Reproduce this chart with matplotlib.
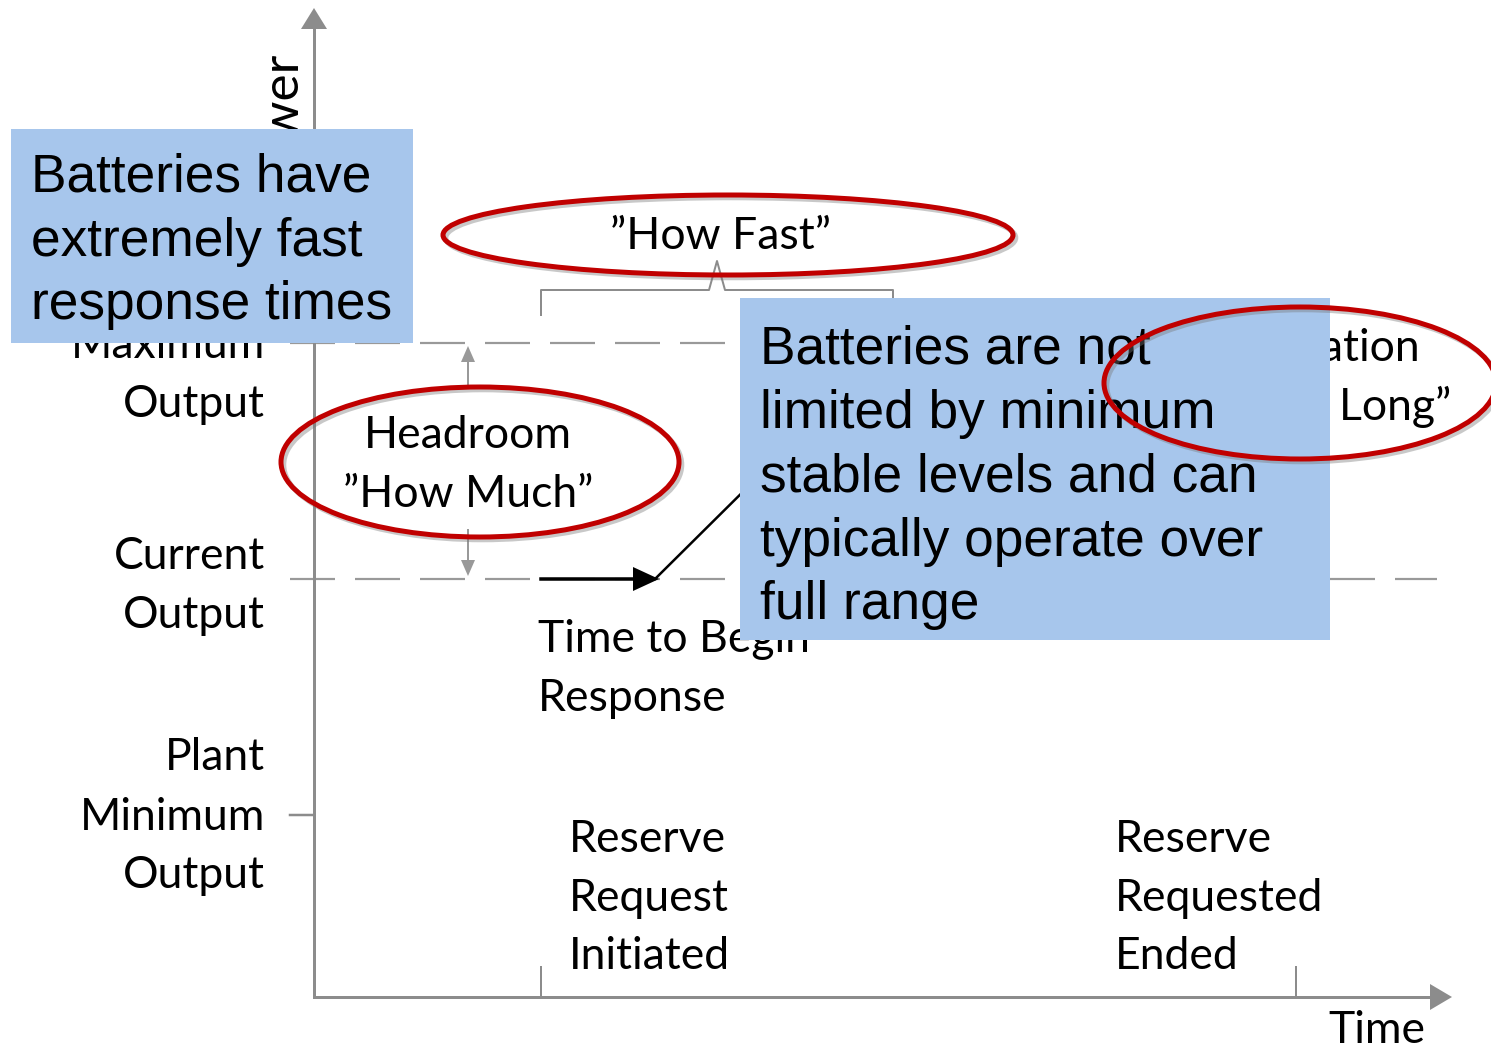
import matplotlib.pyplot as plt
import matplotlib.patheffects as pe
from matplotlib.patches import Ellipse, Rectangle, Polygon

plt.rcParams['lines.scale_dashes'] = False

W, H, DPI = 1491, 1049, 100
PX = 72 / DPI  # pixels -> points

# ---- diagram values (pixel rows / columns of the reference) ----
axis_x0, axis_y0 = 314, 997          # origin of the power/time axes
axis_top, axis_right = 8, 1452        # arrow tips
level_names = ["Maximum Output", "Current Output", "Plant Minimum Output"]
level_y = [343, 579, 815]
level_end = [1300, 1437]              # where the dashed level lines stop
event_x = [541, 1296]                 # reserve request initiated / ended
response_x = [541, 655, 893, 1296]    # unit output trajectory
response_y = [579, 579, 343, 343]
bracket_x = [541, 893]
headroom_x = 468

# text lines (label, x, baseline)
level_lines = ["Maximum", "Output", "Current", "Output", "Plant", "Minimum", "Output"]
level_base = [358, 417, 569, 628, 770, 830, 888]
start_lines = ["Reserve", "Request", "Initiated"]
end_lines = ["Reserve", "Requested", "Ended"]
event_base = [852, 911, 969]
begin_lines = ["Time to Begin", "Response"]
begin_base = [652, 711]
headroom_lines = ["Headroom", "\u201dHow Much\u201d"]
headroom_base = [448, 507]
duration_lines = ["Duration", "\u201dHow Long\u201d"]
duration_base = [361, 420]
box1_lines = ["Batteries have", "extremely fast", "response times"]
box1_base = [192, 256, 319]
box2_lines = ["Batteries are not", "limited by minimum", "stable levels and can",
              "typically operate over", "full range"]
box2_base = [364, 428, 492, 556, 619]

GREY = "#8c8c8c"
RED = "#c00000"
BLUE = "#a7c6ec"
LABEL_FONT = "Lato"
BOX_FONT = "Liberation Sans"
LS = 32
BS = 38.3

fig = plt.figure(figsize=(W / DPI, H / DPI), dpi=DPI)
ax = fig.add_axes([0, 0, 1, 1])
ax.set_xlim(0, W)
ax.set_ylim(H, 0)
ax.axis("off")

# axes with arrow heads
ax.plot([axis_x0, axis_x0], [axis_y0, axis_top + 18], color=GREY, lw=3 * PX, zorder=2)
ax.plot([axis_x0, axis_right - 18], [axis_y0, axis_y0], color=GREY, lw=3 * PX, zorder=2)
ax.add_patch(Polygon([[axis_x0, axis_top], [axis_x0 - 13, axis_top + 21], [axis_x0 + 13, axis_top + 21]],
                     closed=True, color=GREY, lw=0, zorder=2))
ax.add_patch(Polygon([[axis_right, axis_y0], [axis_right - 22, axis_y0 - 13], [axis_right - 22, axis_y0 + 13]],
                     closed=True, color=GREY, lw=0, zorder=2))

# level lines
for y, x1 in zip(level_y[:2], level_end):
    ax.plot([290, x1], [y, y], color="#999999", lw=2.2 * PX, dashes=(45 * PX, 20 * PX), zorder=1)
ax.plot([290, axis_x0], [level_y[2], level_y[2]], color=GREY, lw=2.5 * PX, zorder=2)

# event ticks on the time axis
for x in event_x:
    ax.plot([x, x], [967, axis_y0], color=GREY, lw=2 * PX, zorder=2)

# "How Fast" bracket
bx0, bx1 = bracket_x
mid = (bx0 + bx1) / 2
ax.plot([bx0, bx0, mid - 8, mid, mid + 8, bx1, bx1], [315, 290, 290, 261, 290, 290, 302],
        color=GREY, lw=2 * PX, zorder=2)

# headroom double arrow
ax.plot([headroom_x, headroom_x], [385, 360], color="#999999", lw=2 * PX, zorder=2)
ax.add_patch(Polygon([[headroom_x, level_y[0] + 3], [headroom_x - 7, 362], [headroom_x + 7, 362]],
                     closed=True, color="#999999", lw=0, zorder=2))
ax.plot([headroom_x, headroom_x], [530, 562], color="#999999", lw=2 * PX, zorder=2)
ax.add_patch(Polygon([[headroom_x, level_y[1] - 3], [headroom_x - 7, 560], [headroom_x + 7, 560]],
                     closed=True, color="#999999", lw=0, zorder=2))

# unit response
ax.plot(response_x[1:], response_y[1:], color="black", lw=2.5 * PX, zorder=3)
ax.plot([response_x[0], response_x[1] - 20], [response_y[0]] * 2, color="black", lw=3.5 * PX, zorder=3)
ax.add_patch(Polygon([[response_x[1] + 4, response_y[1]], [response_x[1] - 22, response_y[1] - 12],
                      [response_x[1] - 22, response_y[1] + 12]], closed=True, color="black", lw=0, zorder=3))


def lines(txts, x, bases, ha="left", size=LS, family=LABEL_FONT, z=4):
    for t, b in zip(txts, bases):
        ax.text(x, b, t, ha=ha, va="baseline", fontsize=size, family=family, color="black", zorder=z)


lines(level_lines, 265, level_base, ha="right")
lines(start_lines, 569, event_base)
lines(end_lines, 1115, event_base)
lines(begin_lines, 538, begin_base)
lines(headroom_lines, headroom_x, headroom_base, ha="center")
lines(duration_lines, 1334, duration_base, ha="center")
ax.text(720, 249, "\u201dHow Fast\u201d", ha="center", va="baseline", fontsize=LS, family=LABEL_FONT, zorder=4)
ax.text(1328, 1043, "Time", ha="left", va="baseline", fontsize=LS, family=LABEL_FONT, zorder=4)
ax.text(294, 50, "Power", rotation=90, rotation_mode="anchor", ha="right", va="baseline",
        fontsize=37, family=LABEL_FONT, zorder=4)

shadow = [pe.SimpleLineShadow(offset=(2, -2), shadow_color="#777777", alpha=0.4), pe.Normal()]


def ring(cx, cy, w, h, z):
    e = Ellipse((cx, cy), w, h, fill=False, edgecolor=RED, lw=5 * PX, zorder=z)
    e.set_path_effects(shadow)
    ax.add_patch(e)


ring(728, 235, 570, 80, 5)
ring(480, 462, 398, 150, 5)

# callout boxes
ax.add_patch(Rectangle((11, 129), 402, 214, facecolor=BLUE, edgecolor="none", zorder=6))
lines(box1_lines, 31, box1_base, size=BS, family=BOX_FONT, z=7)
ax.add_patch(Rectangle((740, 298), 590, 342, facecolor=BLUE, edgecolor="none", zorder=6))
lines(box2_lines, 760, box2_base, size=BS, family=BOX_FONT, z=7)

ring(1300, 383, 392, 152, 8)

fig.savefig("out.png", dpi=DPI)
